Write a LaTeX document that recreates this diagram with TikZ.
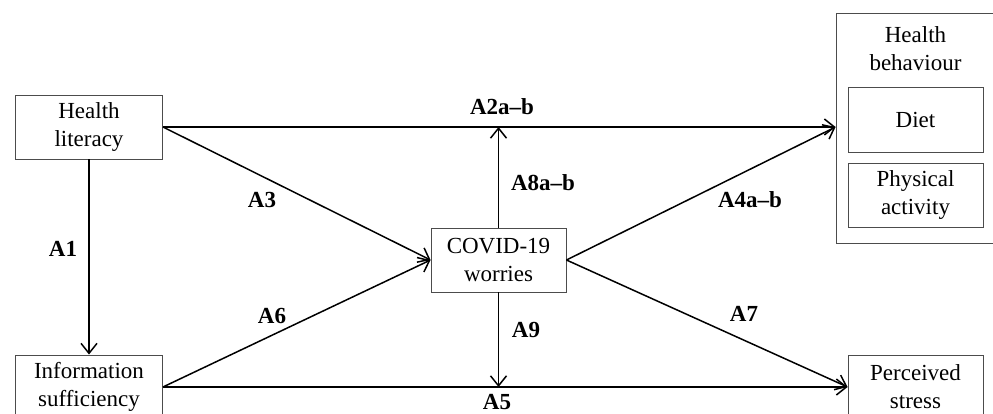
\documentclass[tikz,border=0pt]{standalone}
\usepackage{fontspec}
\setmainfont{Liberation Serif}
\usetikzlibrary{arrows.meta}
\begin{document}
\begin{tikzpicture}[x=1pt,y=-1pt,
  box/.style={draw=black!70,line width=0.9pt,align=center,inner sep=0pt,
    font=\fontsize{23}{28}\selectfont},
  txt/.style={align=center,inner sep=0pt,font=\fontsize{23}{28}\selectfont},
  conn/.style={line width=1.5pt,-{Straight Barb[length=10pt,width=16pt,line width=1.5pt]}},
  lab/.style={inner sep=0pt,font=\fontsize{23}{26}\selectfont\bfseries}]
\useasboundingbox (0,0) rectangle (993,414);
\fill[white] (0,0) rectangle (993,414);
\begin{scope}
\clip (0,0) rectangle (993,414);
% boxes
\node[box,minimum width=147pt,minimum height=64pt] (hl) at (89,127) {Health\\literacy};
\node[box,minimum width=147pt,minimum height=64pt] (info) at (89,387) {Information\\sufficiency};
\node[box,minimum width=135pt,minimum height=64pt] (cov) at (498.5,260) {COVID-19\\worries};
\node[box,minimum width=164pt,minimum height=230pt] (hb) at (918,128) {};
\node[txt] (hbt) at (915.5,49) {Health\\behaviour};
\node[box,minimum width=135pt,minimum height=65pt] (diet) at (915.5,119.5) {Diet};
\node[box,minimum width=135pt,minimum height=64pt] (pa) at (915.5,195) {Physical\\activity};
\node[box,minimum width=135pt,minimum height=64pt] (ps) at (915.5,387) {Perceived\\stress};
% connectors
\coordinate (hbin) at (hl.east -| hb.west);
\coordinate (j1) at (cov.north |- hl.east);
\coordinate (j2) at (cov.south |- info.east);
\draw[conn] (hl.east) -- (hbin);
\draw[conn] (cov.north) -- (j1);
\draw[conn] (hl.east) -- (cov.west);
\draw[conn] (info.east) -- (cov.west);
\draw[conn] (cov.east) -- (hbin);
\draw[conn] (cov.east) -- (ps.west);
\draw[conn] (info.east) -- (ps.west);
\draw[conn] (cov.south) -- (j2);
\draw[conn] (hl.south) -- (info.north);
% labels
\node[lab] (a1) at (63,249) {A1};
\node[lab] (a2) at (502,107) {A2a--b};
\node[lab] (a3) at (262,200) {A3};
\node[lab] (a4) at (750,200) {A4a--b};
\node[lab] (a5) at (497,402) {A5};
\node[lab] (a6) at (272,316) {A6};
\node[lab] (a7) at (744,314) {A7};
\node[lab] (a8) at (543,183) {A8a--b};
\node[lab] (a9) at (526,330) {A9};
\end{scope}
\end{tikzpicture}
\end{document}
